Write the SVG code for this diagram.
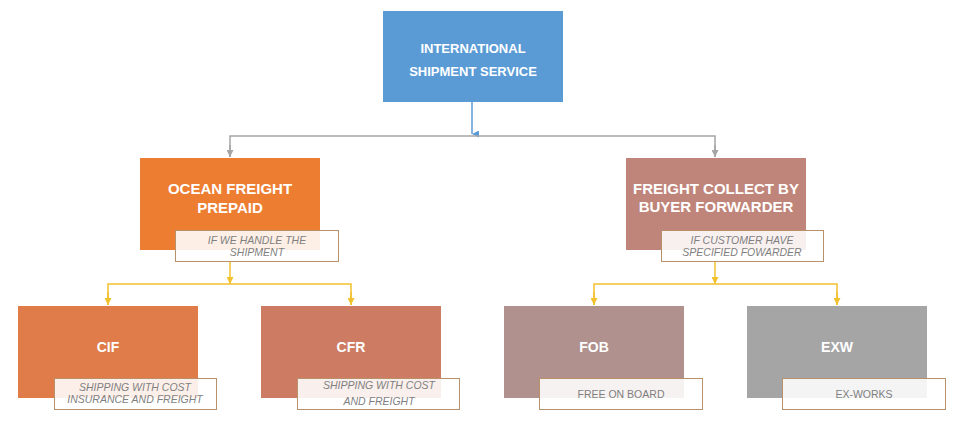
<svg xmlns="http://www.w3.org/2000/svg" width="958" height="431" viewBox="0 0 958 431">
<style>
.t{font-family:"Liberation Sans",Arial,sans-serif;font-weight:bold;fill:#fff;text-anchor:middle}
.l{fill:#fff;fill-opacity:0.88;stroke:#B8916A;stroke-width:1}
.s{font-family:"Liberation Sans",Arial,sans-serif;font-style:italic;font-size:10.5px;fill:#7F7F7F;text-anchor:middle}
.n{font-family:"Liberation Sans",Arial,sans-serif;font-size:10.5px;fill:#7F7F7F;text-anchor:middle}
</style>
<defs>
<marker id="ab" viewBox="0 0 10 10" refX="5" refY="10" markerWidth="7" markerHeight="7" orient="auto-start-reverse" markerUnits="userSpaceOnUse"><path d="M0,0L10,0L5,10z" fill="#5B9BD5"/></marker>
<marker id="ag" viewBox="0 0 10 10" refX="5" refY="10" markerWidth="7" markerHeight="7" markerUnits="userSpaceOnUse"><path d="M0,0L10,0L5,10z" fill="#A5A5A5"/></marker>
<marker id="ay" viewBox="0 0 10 10" refX="5" refY="10" markerWidth="7" markerHeight="7" markerUnits="userSpaceOnUse"><path d="M0,0L10,0L5,10z" fill="#F2C12E"/></marker>
</defs>
<rect width="958" height="431" fill="#fff"/>
<g id="connectors" fill="none" stroke-width="1.5">
<path d="M472,102V134" stroke="#5B9BD5" marker-end="url(#ab)"/>
<path d="M230,157V136H715V157" stroke="#A5A5A5"/>
<path d="M230,145V157" stroke="#A5A5A5" marker-end="url(#ag)"/>
<path d="M715,145V157" stroke="#A5A5A5" marker-end="url(#ag)"/>
<path d="M230,262V284" stroke="#F2C12E" marker-end="url(#ay)"/>
<path d="M108,305V284H351V305" stroke="#F2C12E"/>
<path d="M108,292V305" stroke="#F2C12E" marker-end="url(#ay)"/>
<path d="M351,292V305" stroke="#F2C12E" marker-end="url(#ay)"/>
<path d="M715,262V284" stroke="#F2C12E" marker-end="url(#ay)"/>
<path d="M594,305V284H837V305" stroke="#F2C12E"/>
<path d="M594,292V305" stroke="#F2C12E" marker-end="url(#ay)"/>
<path d="M837,292V305" stroke="#F2C12E" marker-end="url(#ay)"/>
</g>
<g id="root"><rect x="383" y="11" width="180" height="91" fill="#5B9BD5"/>
<text class="t" font-size="13" x="473" y="53">INTERNATIONAL</text><text class="t" font-size="13" x="473" y="76">SHIPMENT SERVICE</text></g>
<g id="ocean"><rect x="140" y="158" width="180" height="92" fill="#ED7D31"/>
<text class="t" font-size="15" x="230" y="194">OCEAN FREIGHT</text><text class="t" font-size="15" x="230" y="213">PREPAID</text>
<rect class="l" x="175.5" y="230.5" width="163" height="31"/>
<text class="s" x="257" y="244">IF WE HANDLE THE</text><text class="s" x="257" y="256">SHIPMENT</text></g>
<g id="collect"><rect x="626" y="158" width="180" height="92" fill="#C0857A"/>
<text class="t" font-size="15" x="716" y="194">FREIGHT COLLECT BY</text><text class="t" font-size="15" x="716" y="212">BUYER FORWARDER</text>
<rect class="l" x="661.5" y="230.5" width="162" height="31"/>
<text class="s" x="742" y="244">IF CUSTOMER HAVE</text><text class="s" x="742" y="256">SPECIFIED FOWARDER</text></g>
<g id="cif"><rect x="18" y="306" width="180" height="92" fill="#E07B4A"/>
<text class="t" font-size="14" x="108" y="352">CIF</text>
<rect class="l" x="54.5" y="378.5" width="162" height="31"/>
<text class="s" x="135" y="391">SHIPPING WITH COST</text><text class="s" x="135" y="403">INSURANCE AND FREIGHT</text></g>
<g id="cfr"><rect x="261" y="306" width="180" height="92" fill="#CE7B63"/>
<text class="t" font-size="14" x="351" y="352">CFR</text>
<rect class="l" x="297.5" y="378.5" width="162" height="31"/>
<text class="s" x="379" y="389">SHIPPING WITH COST</text><text class="s" x="379" y="405">AND FREIGHT</text></g>
<g id="fob"><rect x="504" y="306" width="180" height="92" fill="#B0918D"/>
<text class="t" font-size="14" x="594" y="352">FOB</text>
<rect class="l" x="539.5" y="378.5" width="163" height="31"/>
<text class="n" x="621" y="398">FREE ON BOARD</text></g>
<g id="exw"><rect x="747" y="306" width="180" height="92" fill="#A5A5A5"/>
<text class="t" font-size="14" x="837" y="352">EXW</text>
<rect class="l" x="782.5" y="378.5" width="163" height="31"/>
<text class="n" x="864" y="398">EX-WORKS</text></g>
</svg>
